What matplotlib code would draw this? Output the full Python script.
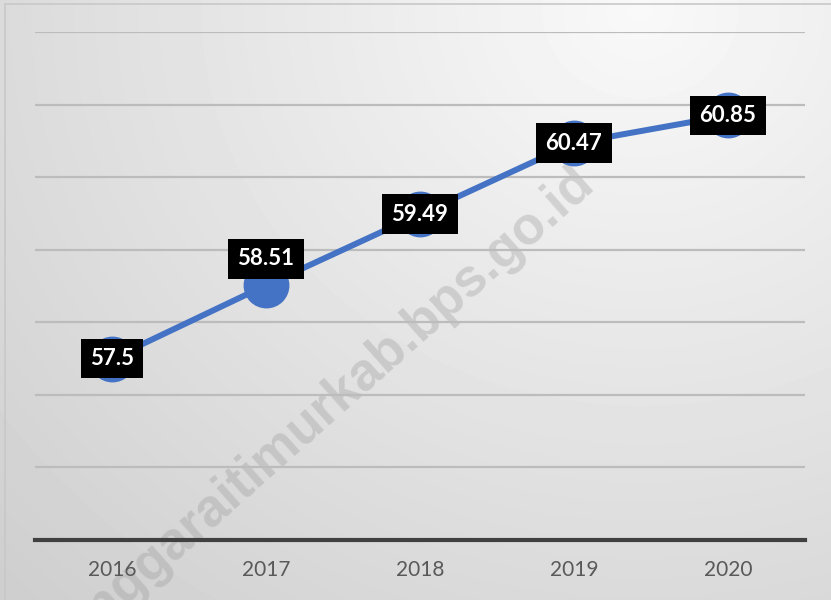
import numpy as np
import matplotlib
matplotlib.use("Agg")
import matplotlib.pyplot as plt

years = ["2016", "2017", "2018", "2019", "2020"]
values = [57.5, 58.51, 59.49, 60.47, 60.85]
label_offsets = [0, 19, 0, 0, 0]  # points above the marker for each data label

W, H, DPI = 831, 600, 100
fig = plt.figure(figsize=(W / DPI, H / DPI), dpi=DPI)

# soft radial grey background, lightest toward the top right
bg = fig.add_axes([0, 0, 1, 1], zorder=-10)
yy, xx = np.mgrid[0:H, 0:W]
d = np.hypot((xx - 640) / 1.0, (yy - 10) / 0.9)
shade = 0.975 - 0.165 * np.clip(d / 900.0, 0, 1)
bg.imshow(shade, cmap="gray", vmin=0, vmax=1, extent=[0, W, H, 0], aspect="auto",
          interpolation="bilinear")
bg.plot([5, 5], [H, 4], color="#c8c8c8", lw=1.2)
bg.plot([5, W], [4, 4], color="#c8c8c8", lw=1.2)
bg.set_xlim(0, W)
bg.set_ylim(H, 0)
bg.axis("off")

# watermark
bg.text(596, 186, "nusatenggaraitimurkab.bps.go.id", rotation=41.6,
        rotation_mode="anchor", ha="right", va="baseline", fontsize=38,
        fontweight="bold", family="Liberation Sans", color="#9a9a9a", alpha=0.35,
        zorder=1)

ax = fig.add_axes([35 / W, 60 / H, 770 / W, 508 / H])
ax.patch.set_alpha(0)
x = np.arange(len(years))
ax.plot(x, values, color="#4472C4", lw=4.3, solid_capstyle="round", zorder=3,
        marker="o", markersize=32, markerfacecolor="#4472C4",
        markeredgecolor="#4472C4")

for xi, v, off in zip(x, values, label_offsets):
    ax.annotate(f"{v:g}", (xi, v), xytext=(0, off), textcoords="offset points",
                ha="center", va="center", fontsize=16, fontweight="bold",
                family="Lato", color="white", zorder=5,
                bbox=dict(boxstyle="square,pad=0.42", fc="black", ec="none"))

ax.set_xlim(-0.5, len(years) - 0.5)
ax.set_ylim(55, 62)
ax.set_yticks(np.arange(55, 63, 1))
ax.yaxis.grid(True, color="#bcbcbc", lw=1.6)
ax.set_axisbelow(True)
ax.tick_params(axis="y", left=False, labelleft=False)
ax.tick_params(axis="x", bottom=False, pad=11)
ax.set_xticks(x)
ax.set_xticklabels(years, fontsize=15, color="#595959", family="Lato")
for s in ["top", "right", "left"]:
    ax.spines[s].set_visible(False)
ax.spines["bottom"].set_color("#404040")
ax.spines["bottom"].set_linewidth(3)
ax.spines["bottom"].set_zorder(2)

fig.savefig("out.png", dpi=DPI)
